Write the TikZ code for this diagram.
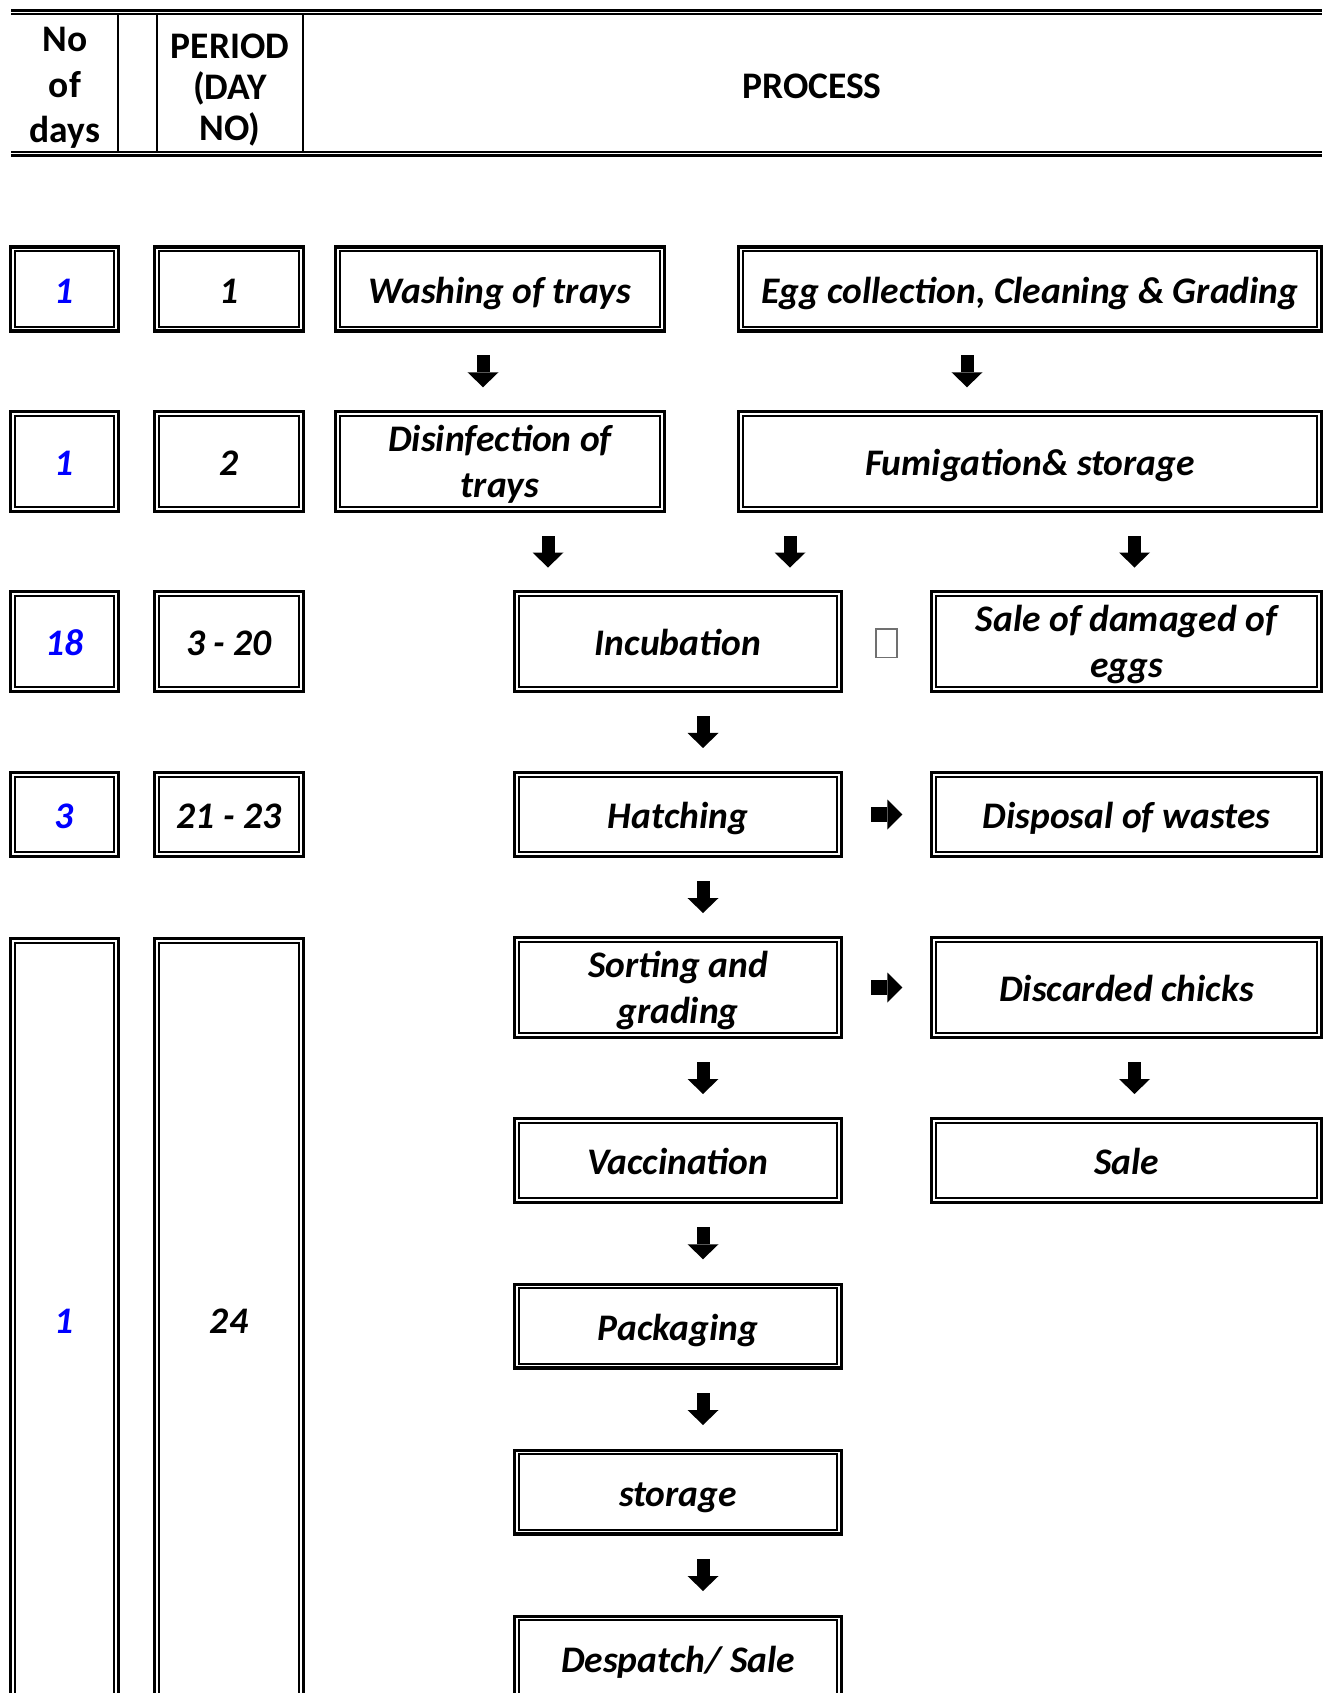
\documentclass[tikz,border=0pt]{standalone}
\usepackage{fontspec}
\setmainfont{Carlito}
\usepackage{tikz}
\usetikzlibrary{calc}
\usepackage{xcolor}
\definecolor{DayBlue}{HTML}{0000FF}
\definecolor{GlyphGray}{HTML}{707070}
\tikzset{
    % Node styles - thick outer frame, thin inner frame
    stagebox/.style={
        rectangle,
        draw=black,
        line width=1.05pt,
        outer sep=0pt,
        inner sep=0pt,
        align=center,
        font=\fontsize{12}{14.6}\selectfont\bfseries\itshape,
        text height=10pt,
        text depth=0.8pt,
        append after command={\pgfextra{
            \draw[line width=0.7pt]
                ([shift={(1.3pt,1.3pt)}]\tikzlastnode.south west) rectangle
                ([shift={(-1.3pt,-1.3pt)}]\tikzlastnode.north east);
        }}
    },
    twolines/.style={text height=, text depth=-0.6pt},
    dayscol/.style={stagebox, minimum width=34.5pt, text=DayBlue},
    periodcol/.style={stagebox, minimum width=47.6pt},
    leftcol/.style={stagebox, minimum width=105.2pt},
    widecol/.style={stagebox, minimum width=186.5pt},
    midcol/.style={stagebox, minimum width=104.5pt},
    sidecol/.style={stagebox, minimum width=124.7pt},
    lowrow/.style={minimum height=26.8pt},
    highrow/.style={minimum height=31.9pt},
    % Header styles
    headtext/.style={
        align=center,
        font=\fontsize{12}{14.5}\selectfont\bfseries
    },
    % Block arrows
    downarr/.pic={
        \fill (-6.5,-16) rectangle (6.5,1);
        \fill (-15.5,1) -- (15.5,1) -- (0,16) -- cycle;
    },
    rightarr/.pic={
        \fill (-15,-7.5) rectangle (1,7.5);
        \fill (1,-15) -- (1,15) -- (16,0) -- cycle;
    }
}

\begin{document}
\begin{tikzpicture}[x=0.32pt, y=-0.32pt]
    \useasboundingbox (0,0) rectangle (1332,1693);
    \clip (0,0) rectangle (1332,1693);

    % Header
    \draw[line width=1pt] (11,10.5) -- (1322,10.5);
    \draw[line width=0.55pt] (11,14) -- (1322,14);
    \draw[line width=0.55pt] (11,151.8) -- (1322,151.8);
    \draw[line width=1pt] (11,155.7) -- (1322,155.7);
    \foreach \x in {118,157,303} {
        \draw[line width=0.45pt] (\x,14) -- (\x,151.8);
    }
    \node[headtext] (headdays) at (65,88) {No\\of\\days};
    \node[headtext, font=\fontsize{12}{13}\selectfont\bfseries] (headperiod) at (230,90) {PERIOD\\(DAY\\NO)};
    \node[headtext] (headprocess) at (812,86) {PROCESS};

    % Days and period columns
    \foreach \nd/\np/\y/\h [count=\i] in {1/1/289/lowrow, 1/2/461.5/highrow, 18/3 - 20/641.5/highrow, 3/21 - 23/814.5/lowrow} {
        \node[dayscol, \h] (days\i) at (64.5,\y) {\nd};
        \node[periodcol, \h] (period\i) at (229,\y) {\np};
    }
    \node[dayscol, minimum height=243.4pt] (days5) at (64.5,1319) {1};
    \node[periodcol, minimum height=243.4pt] (period5) at (229,1319) {24};

    % Process boxes
    \node[leftcol, lowrow] (washing) at (500,289) {Washing of trays};
    \node[widecol, lowrow] (eggs) at (1030,289) {Egg collection, Cleaning \& Grading};
    \node[leftcol, highrow, twolines] (disinfect) at (500,461.5) {Disinfection of\\trays};
    \node[widecol, highrow] (fumigate) at (1030,461.5) {Fumigation\& storage};
    \node[midcol, highrow] (incubate) at (678,641.5) {Incubation};
    \node[sidecol, highrow, twolines] (damaged) at (1126.5,641.5) {Sale of damaged of\\eggs};
    \node[midcol, lowrow] (hatch) at (678,814.5) {Hatching};
    \node[sidecol, lowrow] (wastes) at (1126.5,814.5) {Disposal of wastes};
    \node[midcol, highrow, twolines] (sorting) at (678,987.5) {Sorting and\\grading};
    \node[sidecol, highrow] (discard) at (1126.5,987.5) {Discarded chicks};
    \node[midcol, lowrow] (vaccine) at (678,1160.5) {Vaccination};
    \node[sidecol, lowrow] (sale) at (1126.5,1160.5) {Sale};
    \node[midcol, lowrow] (pack) at (678,1326) {Packaging};
    \node[midcol, lowrow] (store) at (678,1492) {storage};
    \node[midcol, lowrow] (despatch) at (678,1658) {Despatch/ Sale};

    % Missing glyph between incubation and sale
    \node[draw=GlyphGray, line width=0.4pt, minimum width=6.7pt, minimum height=9pt, inner sep=0pt, yshift=-0.5pt]
        (glyph) at ($(incubate.east)!0.5!(damaged.west)$) {};

    % Down arrows, centred in the gap between two boxes
    \foreach \x/\a/\b in {483/washing/disinfect, 967/eggs/fumigate,
                          548/disinfect/incubate, 790/fumigate/incubate, 1134.5/fumigate/damaged,
                          703/incubate/hatch, 703/hatch/sorting, 703/sorting/vaccine,
                          1134.5/discard/sale, 703/vaccine/pack, 703/pack/store, 703/store/despatch} {
        \coordinate (ax) at (\x,0);
        \path (\a.south) -- (\b.north) coordinate[midway] (ay);
        \pic at (ax |- ay) {downarr};
    }

    % Side arrows
    \pic at ($(hatch.east)!0.5!(wastes.west)$) {rightarr};
    \pic at ($(sorting.east)!0.5!(discard.west)$) {rightarr};
\end{tikzpicture}
\end{document}
